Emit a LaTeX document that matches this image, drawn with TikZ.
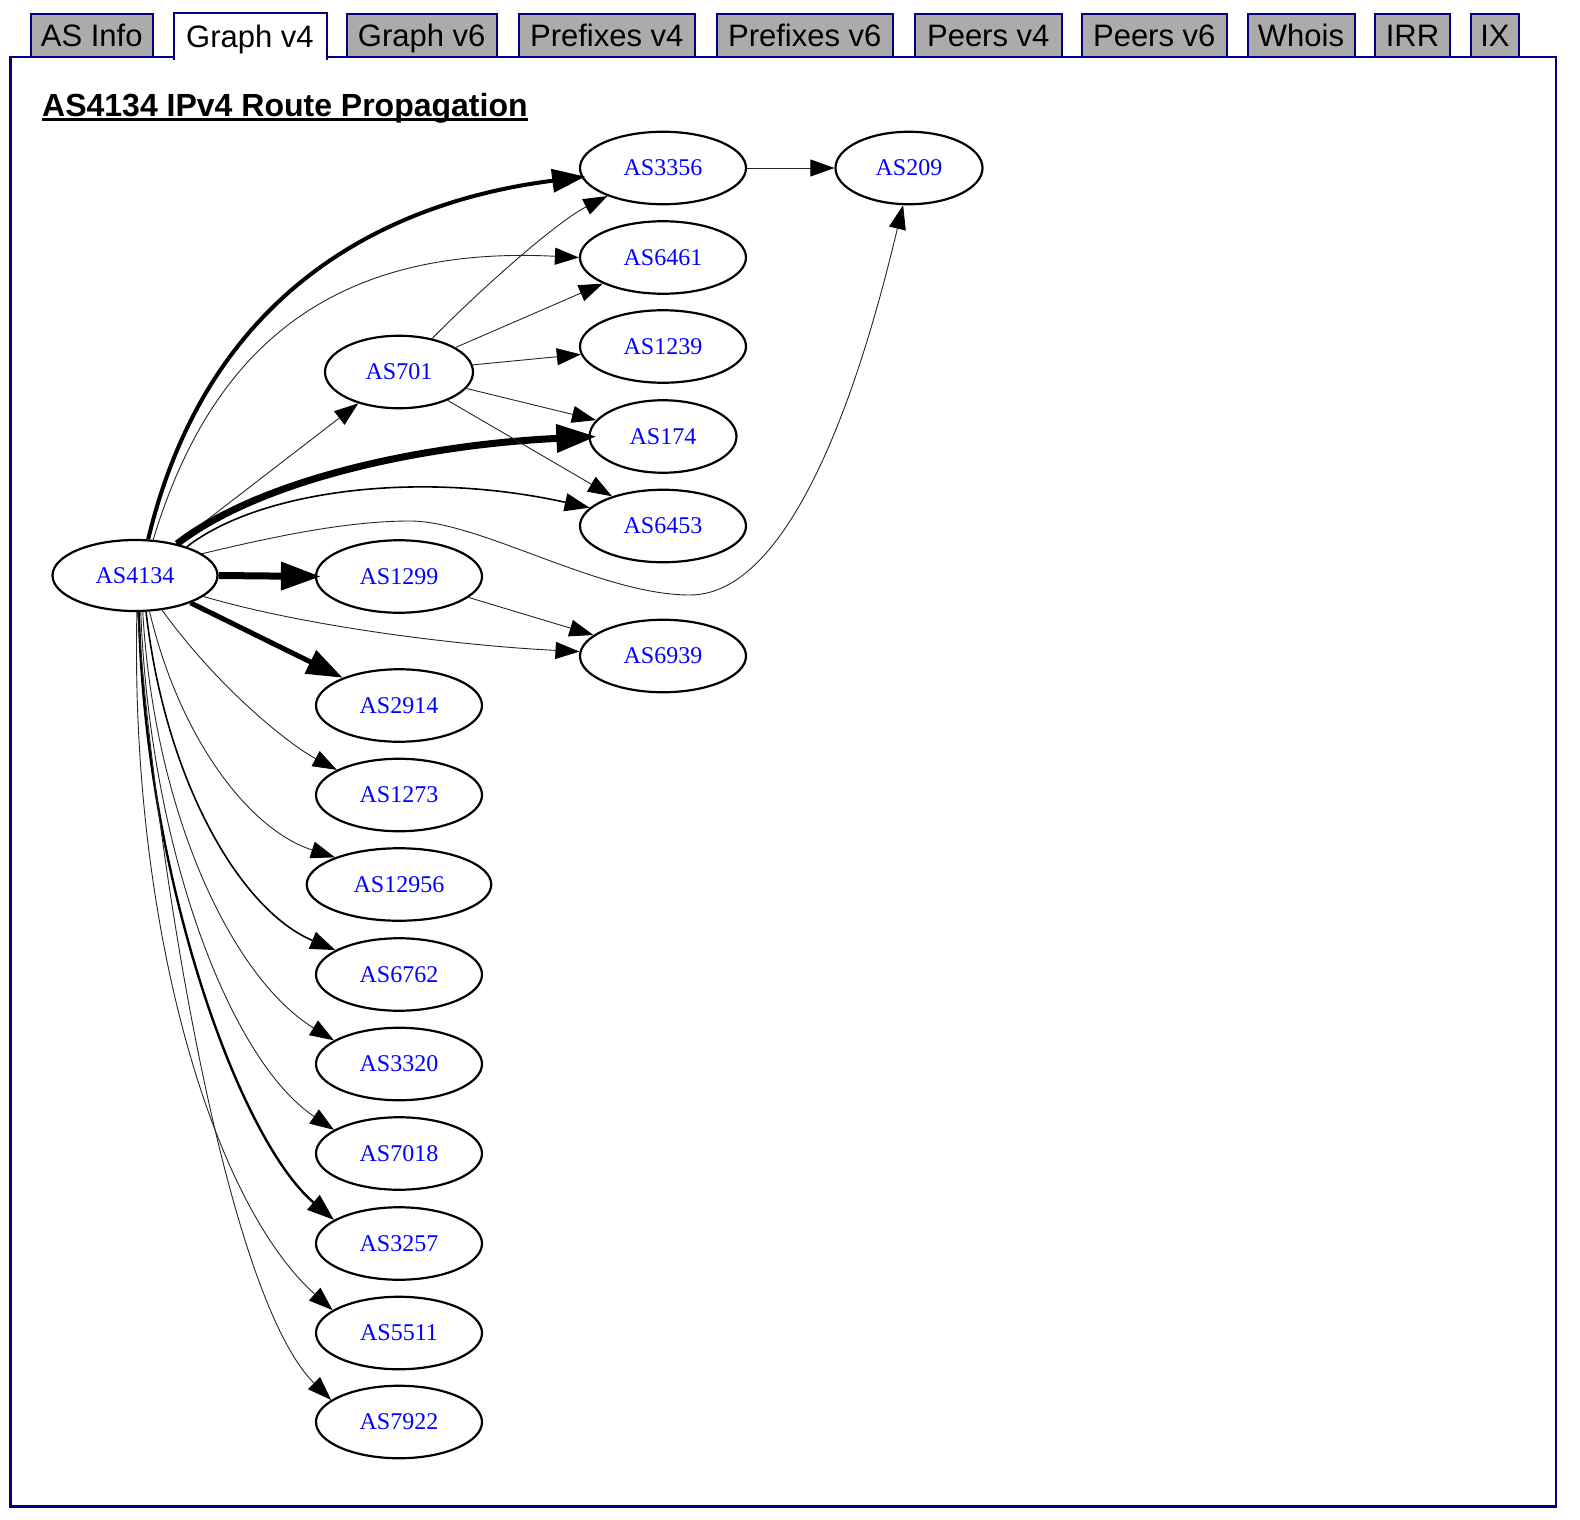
\documentclass[tikz,border=0pt]{standalone}
\usepackage{fontspec}
\setmainfont{Liberation Serif}
\newfontfamily\arialf{Liberation Sans}
\usetikzlibrary{shapes.geometric,arrows.meta}
\definecolor{navyb}{RGB}{0,0,128}
\definecolor{tabgray}{RGB}{171,171,171}
\definecolor{lblblue}{RGB}{0,0,255}
\begin{document}
\begin{tikzpicture}[x=1pt,y=-1pt,
  asn/.style={ellipse, draw=black, line width=2.2pt, inner sep=0pt,
    minimum width=166pt, minimum height=72.5pt, text=lblblue,
    font=\fontsize{24}{28}\selectfont},
  tabbox/.style={draw=navyb, line width=2pt, fill=tabgray, inner sep=0pt,
    minimum height=43pt, text height=25pt, text depth=2pt, text=black,
    font=\arialf\fontsize{31}{36}\selectfont},
  lnthin/.style={line width=0.9pt, draw=black!85, -{Triangle[length=24pt,width=17pt,color=black]}},
  lnmed/.style={line width=1.6pt, draw=black, -{Triangle[length=25pt,width=18pt]}},
  lnsemi/.style={line width=2.4pt, draw=black, -{Triangle[length=27pt,width=19pt]}},
  lnbold/.style={line width=4pt, draw=black, -{Triangle[length=33pt,width=23pt]}},
  lnboldB/.style={line width=5pt, draw=black, -{Triangle[length=36pt,width=25pt]}},
  lnheavy/.style={line width=7pt, draw=black, -{Triangle[length=40pt,width=27pt]}}
]
\useasboundingbox (0,0) rectangle (1580,1520);

% panel
\draw[navyb, line width=2.2pt, fill=white] (10.5,57) rectangle (1556,1506.5);

% tabs
\node[tabbox, minimum width=122.5pt] (tabASI) at (91.75,35.5) {AS Info};
\node[tabbox, minimum width=150.5pt] (tabG6) at (421.75,35.5) {Graph v6};
\node[tabbox, minimum width=176.5pt] (tabP4) at (606.75,35.5) {Prefixes v4};
\node[tabbox, minimum width=176.5pt] (tabP6) at (804.75,35.5) {Prefixes v6};
\node[tabbox, minimum width=146.5pt] (tabPe4) at (988.25,35.5) {Peers v4};
\node[tabbox, minimum width=144.5pt] (tabPe6) at (1154.25,35.5) {Peers v6};
\node[tabbox, minimum width=107pt] (tabWh) at (1301,35.5) {Whois};
\node[tabbox, minimum width=75pt] (tabIRR) at (1412.5,35.5) {IRR};
\node[tabbox, minimum width=48pt] (tabIX) at (1495,35.5) {IX};
\node[tabbox, draw=none, fill=white, minimum width=151pt, minimum height=45pt] (tabG4) at (250,36.5) {Graph v4};
\draw[navyb, line width=2pt] (tabG4.south west) |- (tabG4.north east) -- (tabG4.south east);

% title
\node[anchor=base west, inner sep=0pt, font=\arialf\bfseries\fontsize{32}{38}\selectfont] (title) at (42,116) {AS4134 IPv4 Route Propagation};
\draw[line width=2.4pt] ([yshift=-3.5pt]title.base west) -- ([yshift=-3.5pt]title.base east);

% nodes
\node[asn, minimum width=165pt, minimum height=71pt] (n4134) at (135,575.5) {AS4134};
\node[asn, minimum width=148pt] (n701) at (399,372) {AS701};
\node[asn] (n1299) at (399,576.5) {AS1299};
\node[asn] (n3356) at (663,168) {AS3356};
\node[asn] (n6461) at (663,257.5) {AS6461};
\node[asn] (n1239) at (663,346.5) {AS1239};
\node[asn, minimum width=147pt] (n174) at (663,436.5) {AS174};
\node[asn] (n6453) at (663,526) {AS6453};
\node[asn] (n6939) at (663,656) {AS6939};
\node[asn, minimum width=147pt] (n209) at (909,168) {AS209};
\node[asn] (n2914) at (399,705.5) {AS2914};
\node[asn] (n1273) at (399,795) {AS1273};
\node[asn, minimum width=184.5pt] (n12956) at (399,884.5) {AS12956};
\node[asn] (n6762) at (399,974.5) {AS6762};
\node[asn] (n3320) at (399,1064) {AS3320};
\node[asn] (n7018) at (399,1153.5) {AS7018};
\node[asn] (n3257) at (399,1243.5) {AS3257};
\node[asn] (n5511) at (399,1333) {AS5511};
\node[asn] (n7922) at (399,1422) {AS7922};

% edges from AS4134
\draw[lnbold] (n4134.70) .. controls (210,280) and (400,200) .. ([xshift=4pt]n3356.186);
\draw[lnthin] (n4134.63) .. controls (212,345) and (335,245) .. (n6461.180);
\draw[lnthin] (n4134) -- (n701);
\draw[lnheavy] (n4134.37) .. controls (260,480) and (420,445) .. ([xshift=8pt]n174.180);
\draw[lnmed] (n4134.29) .. controls (260,490) and (420,470) .. (n6453.166);
\draw[lnthin] (n4134.18) .. controls (280,535) and (350,521) .. (410,521)
   .. controls (480,521) and (600,595) .. (690,595)
   .. controls (810,595) and (880,300) .. (n209.261);
\draw[lnheavy] (n4134.east) -- ([xshift=6pt]n1299.west);
\draw[lnthin] (n4134.-17) .. controls (300,625) and (450,645) .. (n6939.177);
\draw[lnboldB] (n4134) -- (n2914);
\draw[lnthin] (n4134.-52) .. controls (220,690) and (290,745) .. (n1273.158);
\draw[lnthin] (n4134.-68) .. controls (180,740) and (250,830) .. (n12956.157);
\draw[lnmed] (n4134.-73) .. controls (165,780) and (240,910) .. (n6762.159);
\draw[lnthin] (n4134.-78) .. controls (155,820) and (235,980) .. (n3320.160);
\draw[lnthin] (n4134.-81) .. controls (150,850) and (230,1060) .. (n7018.160);
\draw[lnsemi] (n4134.-84) .. controls (145,880) and (240,1140) .. (n3257.160);
\draw[lnthin] (n4134.-87) .. controls (130,920) and (210,1200) .. (n5511.161);
\draw[lnthin] (n4134.-86) .. controls (160,900) and (230,1300) .. (n7922.162);

% other edges
\draw[lnthin] (n701) .. controls (490,280) and (560,220) .. (n3356);
\draw[lnthin] (n701) -- (n6461);
\draw[lnthin] (n701) -- (n1239);
\draw[lnthin] (n701) -- (n174);
\draw[lnthin] (n701) -- (n6453);
\draw[lnthin] (n1299) -- (n6939);
\draw[lnthin] (n3356) -- (n209);
\end{tikzpicture}
\end{document}
